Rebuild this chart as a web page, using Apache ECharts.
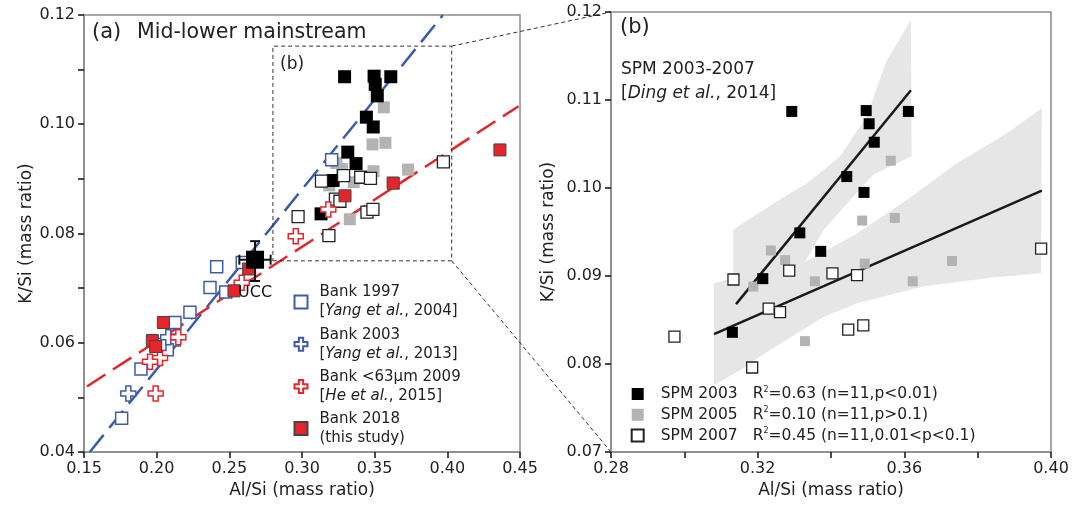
<!DOCTYPE html>
<html><head><meta charset="utf-8">
<script src="https://cdn.jsdelivr.net/npm/echarts@6/dist/echarts.min.js"></script>
<style>html,body{margin:0;padding:0;background:#fff}#c{width:1089px;height:520px}</style>
</head><body><div id="c"></div><script>
const FONT = '"DejaVu Sans", "Liberation Sans", Arial, sans-serif';

// ---- data: [Al/Si, K/Si] ----
const spm2003 = [[0.3293,0.1087],[0.3496,0.1088],[0.3611,0.1087],[0.3504,0.1073],[0.3518,0.1052],[0.3443,0.1013],[0.3490,0.0995],[0.3315,0.0949],[0.3372,0.0928],[0.3214,0.0897],[0.3131,0.0836]];
const spm2005 = [[0.3563,0.1031],[0.3485,0.0963],[0.3574,0.0966],[0.3236,0.0929],[0.3275,0.0918],[0.3492,0.0914],[0.3730,0.0917],[0.3356,0.0894],[0.3623,0.0894],[0.3188,0.0888],[0.3329,0.0826]];
const spm2007 = [[0.2973,0.0831],[0.3134,0.0896],[0.3286,0.0906],[0.3404,0.0903],[0.3471,0.0901],[0.3230,0.0863],[0.3261,0.0859],[0.3447,0.0839],[0.3488,0.0844],[0.3185,0.0796],[0.3973,0.0931]];
const bank1997 = [[0.2413,0.0739],[0.2589,0.0747],[0.2367,0.0701],[0.2475,0.0693],[0.2229,0.0656],[0.2126,0.0637],[0.2121,0.0605],[0.2073,0.0587],[0.2023,0.0597],[0.1892,0.0552],[0.1759,0.0462],[0.3204,0.0935]];
const bank2003 = [[0.1805,0.0507],[0.2080,0.0610]];
const bank2009 = [[0.1993,0.0507],[0.2149,0.0610],[0.2023,0.0572],[0.1954,0.0565],[0.2585,0.0710],[0.2957,0.0795],[0.3181,0.0844]];
const bank2018 = [[0.2532,0.0695],[0.2633,0.0735],[0.2046,0.0637],[0.1970,0.0604],[0.1993,0.0593],[0.3296,0.0869],[0.3628,0.0892],[0.4362,0.0953]];
const ucc = [[0.2677,0.0752]];
const uccErrX = [0.2569,0.2784];
const uccErrY = [0.0713,0.0786];
const trendBlue = [[0.154,0.040],[0.397,0.120]];
const trendRed = [[0.152,0.052],[0.449,0.1033]];
const fit2003 = [[0.3141,0.0868],[0.3618,0.1111]];
const fit2007 = [[0.3081,0.0834],[0.3975,0.0997]];
const band2003 = [[0.3133,0.0952],[0.3152,0.0958],[0.3288,0.0994],[0.3334,0.1005],[0.3425,0.1036],[0.3497,0.1081],[0.3552,0.1145],[0.3618,0.1191],[0.3620,0.1036],[0.3515,0.1015],[0.3452,0.0986],[0.3379,0.0952],[0.3329,0.0916],[0.3261,0.0884],[0.3133,0.0805]];
const band2007 = [[0.3081,0.0892],[0.3206,0.0904],[0.3329,0.0916],[0.3470,0.0948],[0.3606,0.0986],[0.3743,0.1028],[0.3879,0.1062],[0.3975,0.1091],[0.3973,0.0903],[0.3834,0.0898],[0.3651,0.0888],[0.3471,0.0869],[0.3378,0.0853],[0.3234,0.0816],[0.3152,0.0793],[0.3081,0.0776]];
const zoomBox = [[0.280,0.0750],[0.403,0.0750],[0.403,0.1143],[0.280,0.1143],[0.280,0.0750]];
// axis ranges [min, max, interval]
const xRangeA = [0.15,0.45,0.05];
const yRangeA = [0.04,0.12,0.01];
const xRangeB = [0.28,0.40,0.02];
const yRangeB = [0.07,0.12,0.01];
const legendA = {
  'Bank 1997': 'Bank 1997\n[{i|Yang et al.}, 2004]',
  'Bank 2003': 'Bank 2003\n[{i|Yang et al.}, 2013]',
  'Bank <63μm 2009': 'Bank <63μm 2009\n[{i|He et al.}, 2015]',
  'Bank 2018': 'Bank 2018\n(this study)'
};
const legendB = {
  'SPM 2003': ['0.63','n=11,p<0.01'],
  'SPM 2005': ['0.10','n=11,p>0.1'],
  'SPM 2007': ['0.45','n=11,0.01<p<0.1']
};

const BLUE = '#3d5ca8', RED = '#e5252b', GRAY = '#b3b3b3', BAND = '#e6e6e6';
const CROSS = 'path://M5,0H10V5H15V10H10V15H5V10H0V5H5Z';

function mkAxis(idx, r, name, gap, fmt) {
  return {
    type:'value', gridIndex:idx, min:r[0], max:r[1], interval:r[2],
    name:name, nameLocation:'middle', nameGap:gap,
    nameTextStyle:{fontFamily:FONT, fontSize:17, color:'#222'},
    axisLine:{show:true, onZero:false, lineStyle:{color:'#8a8a8a', width:1.5}},
    axisTick:{show:true, inside:false, length:6, lineStyle:{color:'#111', width:1.5}},
    splitLine:{show:false},
    axisLabel:{fontFamily:FONT, fontSize:16, color:'#222', margin:9, formatter:fmt, showMinLabel:true, showMaxLabel:true}
  };
}
const f2 = v => v.toFixed(2);

function bandSeries(pts) {
  return {type:'custom', xAxisIndex:1, yAxisIndex:1, data:[[0.34,0.095]], silent:true, z:1, clip:true,
    renderItem:(p, api) => ({type:'polygon', shape:{points: pts.map(q => api.coord(q))}, style:{fill:BAND}})};
}
function sc(name, data, xi, size, sym, color, border, bw, extra) {
  return Object.assign({type:'scatter', name:name, xAxisIndex:xi, yAxisIndex:xi, data:data, symbol:sym, symbolSize:size,
    itemStyle:{color:color, borderColor:border, borderWidth:bw, opacity:1}, z:3, animation:false}, extra||{});
}
function ln(data, xi, color, width, type) {
  return {type:'line', xAxisIndex:xi, yAxisIndex:xi, data:data, symbol:'none', silent:true, clip:true, z:2,
    lineStyle:{color:color, width:width, type:type}, animation:false};
}

const option = {
  animation:false,
  backgroundColor:'#fff',
  grid:[
    {left:84, right:569, top:15, bottom:68, show:true, borderColor:'#8a8a8a', borderWidth:1.5},
    {left:611, right:38, top:12, bottom:68, show:true, borderColor:'#8a8a8a', borderWidth:1.5}
  ],
  xAxis:[
    mkAxis(0, xRangeA, 'Al/Si (mass ratio)', 30, f2),
    mkAxis(1, xRangeB, 'Al/Si (mass ratio)', 30, v => (Math.round(v*100) % 4 === 0 ? v.toFixed(2) : ''))
  ],
  yAxis:[
    mkAxis(0, yRangeA, 'K/Si (mass ratio)', 46, v => (Math.round(v*100) % 2 === 0 ? v.toFixed(2) : '')),
    mkAxis(1, yRangeB, 'K/Si (mass ratio)', 54, f2)
  ],
  legend:[
    {data:['Bank 1997','Bank 2003','Bank <63μm 2009','Bank 2018'], orient:'vertical', left:293.5, top:283,
     itemWidth:13, itemHeight:13, itemGap:4.2, padding:0, selectedMode:false,
     formatter: n => legendA[n],
     textStyle:{fontFamily:FONT, fontSize:15, color:'#222', lineHeight:19, padding:[0,0,0,7],
       rich:{i:{fontFamily:FONT, fontSize:15, color:'#222', fontStyle:'italic', lineHeight:19}}}},
    {data:['SPM 2003','SPM 2005','SPM 2007'], orient:'vertical', left:630.7, top:383.6,
     itemWidth:12, itemHeight:12, itemGap:0, padding:0, selectedMode:false,
     formatter: n => '{a|' + n + '}{t|R}{s|2}{t|=' + legendB[n][0] + ' (' + legendB[n][1] + ')}',
     textStyle:{fontFamily:FONT, fontSize:15.5, color:'#222', lineHeight:20.8,
       rich:{
         a:{fontFamily:FONT, fontSize:15.5, color:'#222', width:92, padding:[0,0,0,12], lineHeight:20.8},
         t:{fontFamily:FONT, fontSize:15.5, color:'#222', lineHeight:20.8},
         s:{fontFamily:FONT, fontSize:8, color:'#222', lineHeight:8, padding:[0,0,9,0]}
       }}}
  ],
  series:[
    bandSeries(band2003),
    bandSeries(band2007),
    ln(fit2003, 1, '#1a1a1a', 2.5, 'solid'),
    ln(fit2007, 1, '#1a1a1a', 2.5, 'solid'),
    ln(trendBlue, 0, BLUE, 2.5, [22,9]),
    ln(trendRed, 0, RED, 2.5, [22,9]),
    ln(zoomBox, 0, '#333', 1, [4,3]),
    sc('SPM 2005', spm2005, 0, 12, 'rect', GRAY, GRAY, 0),
    sc('SPM 2003', spm2003, 0, 13, 'rect', '#000', '#000', 0),
    sc('SPM 2007', spm2007, 0, 12, 'rect', '#fff', '#222', 1.3),
    sc('Bank 1997', bank1997, 0, 12, 'rect', '#fff', BLUE, 1.5),
    sc('Bank 2003', bank2003, 0, 15, CROSS, '#fff', BLUE, 1.5),
    sc('Bank <63μm 2009', bank2009, 0, 15, CROSS, '#fff', RED, 1.5),
    sc('Bank 2018', bank2018, 0, 12, 'rect', RED, '#444', 1),
    {type:'custom', xAxisIndex:0, yAxisIndex:0, data:[ucc[0]], silent:true, z:4,
     renderItem:(p, api) => {
       const l = api.coord([uccErrX[0], ucc[0][1]]), r = api.coord([uccErrX[1], ucc[0][1]]);
       const b = api.coord([ucc[0][0], uccErrY[0]]), t = api.coord([ucc[0][0], uccErrY[1]]);
       const cap = 5, st = {stroke:'#111', lineWidth:2};
       const L = (x1,y1,x2,y2) => ({type:'line', shape:{x1,y1,x2,y2}, style:st});
       return {type:'group', children:[
         L(l[0],l[1],r[0],r[1]), L(l[0],l[1]-cap,l[0],l[1]+cap), L(r[0],r[1]-cap,r[0],r[1]+cap),
         L(b[0],b[1],t[0],t[1]), L(b[0]-cap,b[1],b[0]+cap,b[1]), L(t[0]-cap,t[1],t[0]+cap,t[1])
       ]};
     }},
    sc('UCC', ucc, 0, 18, 'rect', '#000', '#000', 0, {z:5,
      label:{show:true, formatter:'UCC', position:'bottom', distance:16, fontFamily:FONT, fontSize:16, color:'#111'}}),
    sc('SPM 2005', spm2005, 1, 10, 'rect', GRAY, GRAY, 0),
    sc('SPM 2007', spm2007, 1, 11, 'rect', '#fff', '#222', 1.3),
    sc('SPM 2003', spm2003, 1, 11, 'rect', '#000', '#000', 0)
  ],
  graphic:[
    {type:'text', x:92, y:33, style:{text:'(a)', fontFamily:FONT, fontSize:21, fill:'#222', verticalAlign:'middle'}},
    {type:'text', x:137, y:33, style:{text:'Mid-lower mainstream', fontFamily:FONT, fontSize:20.5, fill:'#222', verticalAlign:'middle'}},
    {type:'text', x:280, y:65, style:{text:'(b)', fontFamily:FONT, fontSize:17, fill:'#222', verticalAlign:'middle'}},
    {type:'text', x:620, y:28, style:{text:'(b)', fontFamily:FONT, fontSize:21, fill:'#222', verticalAlign:'middle'}},
    {type:'text', x:621, y:70, style:{text:'SPM 2003-2007', fontFamily:FONT, fontSize:17, fill:'#222', verticalAlign:'middle'}},
    {type:'text', x:621, y:94, style:{text:'[{i|Ding et al.}, 2014]', fontFamily:FONT, fontSize:17, fill:'#222', verticalAlign:'middle',
      rich:{i:{fontFamily:FONT, fontSize:17, fill:'#222', fontStyle:'italic'}}}}
  ]
};

const chart = echarts.init(document.getElementById('c'));
chart.setOption(option);
const a1 = chart.convertToPixel({gridIndex:0}, zoomBox[2]);
const a2 = chart.convertToPixel({gridIndex:0}, zoomBox[1]);
const b1 = chart.convertToPixel({gridIndex:1}, [xRangeB[0], yRangeB[1]]);
const b2 = chart.convertToPixel({gridIndex:1}, [xRangeB[0], yRangeB[0]]);
const dash = {stroke:'#333', lineWidth:1, lineDash:[4,3]};
chart.setOption({graphic: option.graphic.concat([
  {type:'line', shape:{x1:a1[0], y1:a1[1], x2:b1[0], y2:b1[1]}, style:dash, silent:true},
  {type:'line', shape:{x1:a2[0], y1:a2[1], x2:b2[0], y2:b2[1]}, style:dash, silent:true}
])});
</script></body></html>
